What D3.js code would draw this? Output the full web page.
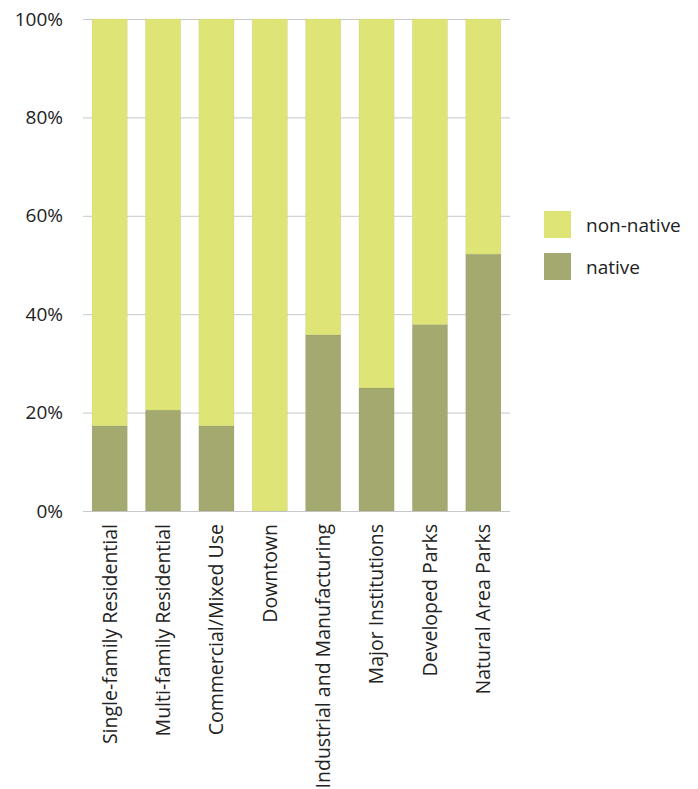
<!DOCTYPE html>
<html>
<head>
<meta charset="utf-8">
<script src="https://cdn.jsdelivr.net/npm/d3@7"></script>
<style>
  body { margin: 0; background: #fff; }
  svg { display: block; font-family: "Open Sans", "Noto Sans", sans-serif; }
</style>
</head>
<body>
<script>
const categories = [
  "Single-family Residential",
  "Multi-family Residential",
  "Commercial/Mixed Use",
  "Downtown",
  "Industrial and Manufacturing",
  "Major Institutions",
  "Developed Parks",
  "Natural Area Parks",
];
const nativeShare = [17.3, 20.5, 17.3, 0, 35.8, 25.0, 37.9, 52.2];
const nonNativeShare = nativeShare.map((d) => 100 - d);
const seriesNames = ["native", "non-native"];
const yTicks = [0, 20, 40, 60, 80, 100];

const width = 698;
const height = 789;
const colors = { native: "#a4a96f", "non-native": "#dee576" };

const svg = d3
  .select("body")
  .append("svg")
  .attr("width", width)
  .attr("height", height);

const x = d3
  .scaleBand()
  .domain(categories)
  .range([83, 510])
  .paddingInner(0.34)
  .paddingOuter(0.17);

const y = d3.scaleLinear().domain([0, 100]).range([511, 19]);

const rows = categories.map((c, i) => ({
  category: c,
  native: nativeShare[i],
  "non-native": nonNativeShare[i],
}));
const stacked = d3.stack().keys(seriesNames)(rows);

// grid lines
svg
  .append("g")
  .selectAll("line")
  .data(yTicks)
  .enter()
  .append("line")
  .attr("x1", 83)
  .attr("x2", 510)
  .attr("y1", (d) => y(d) + 0.5)
  .attr("y2", (d) => y(d) + 0.5)
  .attr("stroke", "#c8c8c8")
  .attr("stroke-width", 1);

// y tick labels
svg
  .append("g")
  .selectAll("text")
  .data(yTicks)
  .enter()
  .append("text")
  .attr("x", 63)
  .attr("y", (d) => y(d))
  .attr("dy", "0.35em")
  .attr("text-anchor", "end")
  .attr("font-size", 19)
  .attr("fill", "#222")
  .text((d) => `${d}%`);

// bars
svg
  .append("g")
  .selectAll("g")
  .data(stacked)
  .enter()
  .append("g")
  .attr("fill", (s) => colors[s.key])
  .selectAll("rect")
  .data((s) => s)
  .enter()
  .append("rect")
  .attr("x", (d) => x(d.data.category))
  .attr("y", (d) => y(d[1]))
  .attr("width", x.bandwidth())
  .attr("height", (d) => y(d[0]) - y(d[1]))
  .attr("stroke", "rgba(0,0,0,0.06)")
  .attr("stroke-width", 0.8);

// category labels
svg
  .append("g")
  .selectAll("text")
  .data(categories)
  .enter()
  .append("text")
  .attr("transform", (d) => `translate(${x(d) + x.bandwidth() / 2},524) rotate(-90)`)
  .attr("dy", "0.35em")
  .attr("text-anchor", "end")
  .attr("font-size", 19.5)
  .attr("fill", "#222")
  .text((d) => d);

// legend
const legend = svg
  .append("g")
  .selectAll("g")
  .data(["non-native", "native"])
  .enter()
  .append("g")
  .attr("transform", (d, i) => `translate(544,${211 + i * 42})`);

legend
  .append("rect")
  .attr("width", 27)
  .attr("height", 27)
  .attr("fill", (d) => colors[d]);

legend
  .append("text")
  .attr("x", 42)
  .attr("y", 14)
  .attr("dy", "0.35em")
  .attr("font-size", 19)
  .attr("fill", "#222")
  .text((d) => d);
</script>
</body>
</html>
